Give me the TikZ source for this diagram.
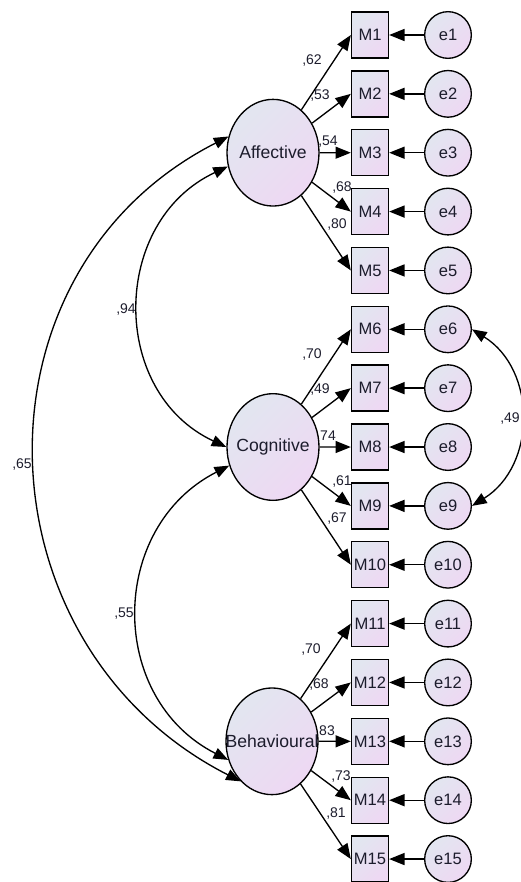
\documentclass[tikz,border=0pt]{standalone}
\usepackage{fontspec}
\setmainfont{Liberation Sans}
\usetikzlibrary{shapes.geometric,arrows.meta}
\definecolor{shadeA}{RGB}{226,230,240}
\definecolor{shadeB}{RGB}{238,216,243}
\definecolor{ink}{RGB}{28,28,44}

\tikzset{
  fill shade/.style={top color=shadeA, bottom color=shadeB, shading angle=45},
  fac/.style={ellipse, draw, line width=1pt, inner sep=0pt, fill shade,
    minimum width=69pt, minimum height=80pt, text=ink, font=\fontsize{13.2}{15}\selectfont},
  obs/.style={rectangle, draw, line width=1pt, inner sep=0pt, fill shade,
    minimum width=27.75pt, minimum height=34.5pt, text=ink, font=\fontsize{12.4}{14}\selectfont},
  err/.style={circle, draw, line width=1pt, inner sep=0pt, fill shade,
    minimum size=35pt, text=ink, font=\fontsize{12.4}{14}\selectfont},
  regpath/.style={line width=1pt, -{Triangle[length=11.5pt,width=9pt]}},
  cov/.style={line width=1pt, {Triangle[length=11pt,width=8.5pt]}-{Triangle[length=11pt,width=8.5pt]},
    out=207, in=153, looseness=1.18},
  wt/.style={inner sep=0pt, text=ink, font=\fontsize{10.5}{12}\selectfont}
}

\begin{document}
\begin{tikzpicture}[x=0.75pt, y=0.75pt]
  \useasboundingbox (0,0) rectangle (521,-882);

  % --- indicators M1..M15 with their error terms ---
  \foreach \i in {1,...,15} {
    \pgfmathsetmacro\yy{-35-58.86*(\i-1)}
    \node[obs] (m\i) at (370,\yy) {\makebox[0pt]{M\i}};
    \node[err] (e\i) at (448,\yy) {e\i};
    \draw[regpath] (e\i) -- (m\i);
  }

  % --- latent factors ---
  \node[fac] (aff) at (273,-152.7) {\makebox[0pt]{Affective}};
  \node[fac] (cog) at (273,-447) {\makebox[0pt]{Cognitive}};
  \node[fac] (beh) at (272,-741.3) {\makebox[0pt]{Behavioural}};

  % --- loadings ---
  \foreach \i/\w in {1/{,62},2/{,53},3/{,54},4/{,68},5/{,80},
                     6/{,70},7/{,49},8/74,9/{,61},10/{,67},
                     11/{,70},12/{,68},13/83,14/{,73},15/{,81}} {
    \pgfmathtruncatemacro\g{int((\i-1)/5)}
    \pgfmathtruncatemacro\k{mod(\i-1,5)}
    \pgfmathparse{{"aff","cog","beh"}[\g]}\let\f\pgfmathresult
    \pgfmathsetmacro\dx{{39,47,55,69,64}[\k]}
    \pgfmathsetmacro\dy{{92,57,11,-35,-72}[\k]}
    \draw[regpath] (\f) -- (m\i.west);
    \node[wt] (w\i) at ([shift={(\dx,\dy)}]\f.center) {\w};
  }

  % --- covariances ---
  \draw[cov, out=205, in=155] (aff.197) to (cog.180);
  \draw[cov] (aff.160) to (beh.232);
  \draw[cov] (cog.203) to (beh.203);
  \draw[cov, out=-32, in=32, looseness=1.11] (e6.0) to (e9.0);

  \node[wt] (c1) at (126,-310) {,94};
  \node[wt] (c2) at (22,-465) {,65};
  \node[wt] (c3) at (124,-614) {,55};
  \node[wt] (c4) at (510,-419) {,49};
\end{tikzpicture}
\end{document}
